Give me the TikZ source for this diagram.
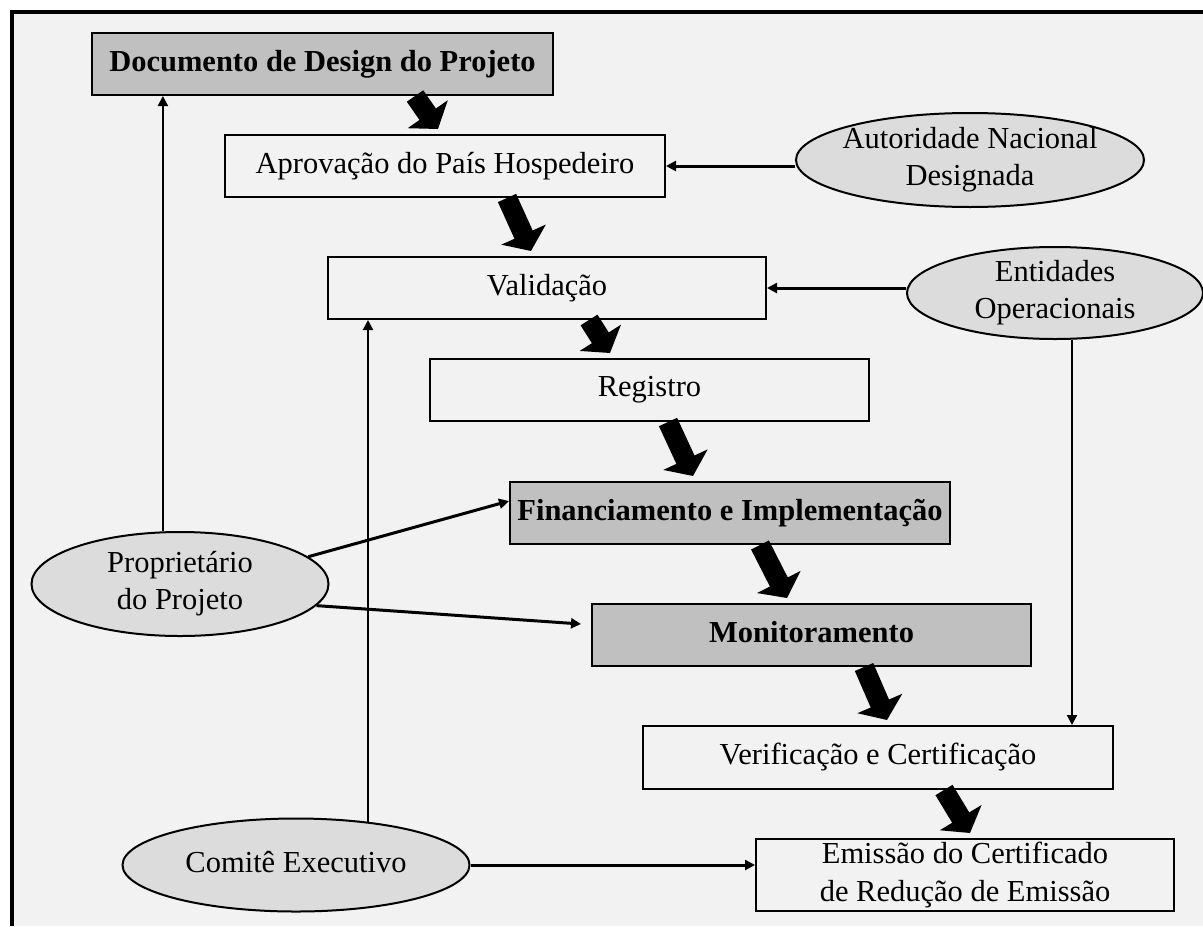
\documentclass[tikz,border=0pt]{standalone}
\usepackage{fontspec}
\setmainfont{Liberation Serif}
\usetikzlibrary{arrows.meta,positioning,shapes.geometric}
\definecolor{paper}{HTML}{F2F2F2}
\definecolor{boxgray}{HTML}{C0C0C0}
\definecolor{ovalgray}{HTML}{DCDCDC}
\newcommand\linestrut{\rule[-3.5pt]{0pt}{13.6pt}}

\begin{document}
\begin{tikzpicture}[
  x=0.5pt,y=-0.5pt,
  font=\fontsize{15.25}{18.75}\selectfont,
  execute at begin node=\linestrut,
  execute at end node=\linestrut,
  stage/.style={draw,line width=1pt,minimum width=220pt,minimum height=31pt,inner sep=0pt,align=center},
  key stage/.style={stage,fill=boxgray,font=\fontsize{15.25}{18.75}\selectfont\bfseries},
  actor/.style={ellipse,draw,line width=1pt,fill=ovalgray,inner xsep=-3pt,inner ysep=-3pt,align=center},
  flow/.style={-{Triangle[length=5pt,width=5pt]},line width=1pt},
  feed/.style={flow,line width=1.5pt},
  fat/.style={-{Triangle[length=9pt,width=24pt]},line width=10pt}
]
\useasboundingbox (0,0) rectangle (1203,926);
\fill[paper] (12,12) rectangle (1203,926);
\draw[line width=2.2pt] (12,926) -- (12,12) -- (1203,12);

\node[key stage,minimum width=230.5pt] (design) at (322.5,64) {Documento de Design do Projeto};
\node[stage] (host) at (445,166) {Aprovação do País Hospedeiro};
\node[stage,minimum width=219pt] (valid) at (547,288) {Validação};
\node[stage,minimum width=219.5pt] (reg) at (649.5,390) {Registro};
\node[key stage] (fund) at (730,513) {Financiamento e Implementação};
\node[key stage,minimum width=219.5pt] (monit) at (811.5,635) {Monitoramento};
\node[stage,minimum width=235pt,minimum height=31.5pt] (verif) at (878,757.5) {Verificação e Certificação};
\node[stage,minimum width=209pt,minimum height=36pt] (issue) at (965,875) {Emissão do Certificado\\de Redução de Emissão};

\node[actor,minimum width=174pt,minimum height=47pt] (dna) at (970,160) {Autoridade Nacional\\Designada};
\node[actor,minimum width=148pt,minimum height=46pt] (doe) at (1055,293) {Entidades\\Operacionais};
\node[actor,minimum width=148.5pt,minimum height=52pt] (owner) at (180,584) {Proprietário\\do Projeto};
\node[actor,minimum width=173.5pt,minimum height=46.5pt] (board) at (296,865) {Comitê Executivo};

\draw[fat] ([xshift=162pt]design.south west) -- ([xshift=107pt,yshift=2.5pt]host.north west);
\draw[fat] ([xshift=141.5pt]host.south west) -- ([xshift=102pt,yshift=2.5pt]valid.north west);
\draw[fat] ([xshift=131pt]valid.south west) -- ([xshift=90.5pt,yshift=2.5pt]reg.north west);
\draw[fat] ([xshift=119.5pt]reg.south west) -- ([xshift=92pt,yshift=2.5pt]fund.north west);
\draw[fat] ([xshift=125.5pt]fund.south west) -- ([xshift=98pt,yshift=2.5pt]monit.north west);
\draw[fat] ([xshift=136.5pt]monit.south west) -- ([xshift=122.5pt,yshift=2.5pt]verif.north west);
\draw[fat] ([xshift=151pt]verif.south west) -- ([xshift=107.5pt,yshift=2.5pt]issue.north west);

\draw[flow] (owner.108) -- (owner.108 |- design.south);
\draw[feed] (dna.west |- host.east) -- (host.east);
\draw[feed] (doe.west |- valid.east) -- (valid.east);
\draw[flow] (doe.-70.7) -- (doe.-70.7 |- verif.north);
\draw[flow] (board.31) -- (board.31 |- valid.south);
\draw[feed] (board.east) -- (board.east -| issue.west);
\draw[feed] (owner.12) -- ([yshift=6pt]fund.west);
\draw[feed] (owner.-9) -- ([xshift=-5pt,yshift=5.5pt]monit.west);
\end{tikzpicture}
\end{document}
